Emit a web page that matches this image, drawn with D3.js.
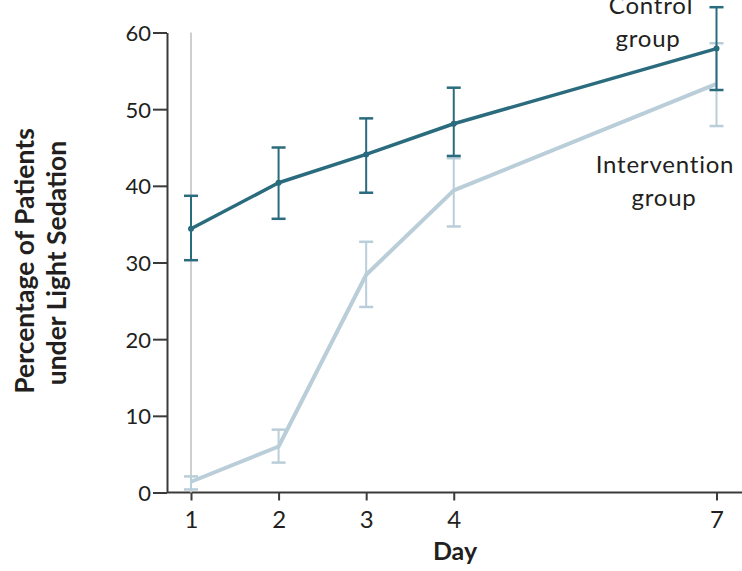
<!DOCTYPE html>
<html>
<head>
<meta charset="utf-8">
<script src="https://cdn.jsdelivr.net/npm/d3@7"></script>
<style>
  html, body { margin: 0; padding: 0; background: #fff; }
  svg { display: block; }
  text { font-family: Lato, "Open Sans", sans-serif; fill: #231f20; }
</style>
</head>
<body>
<svg id="chart" width="742" height="571"></svg>
<script>
// ---- data ----
const days = [1, 2, 3, 4, 7];
const controlMean  = [34.4, 40.4, 44.1, 48.1, 57.9];
const controlLow   = [30.3, 35.7, 39.1, 43.9, 52.5];
const controlHigh  = [38.7, 45.0, 48.8, 52.8, 63.3];
const interventionMean = [1.4, 6.0, 28.4, 39.4, 53.3];
const interventionLow  = [0.4, 3.9, 24.2, 34.7, 47.8];
const interventionHigh = [2.1, 8.2, 32.7, 43.6, 58.6];
const yTicks = [0, 10, 20, 30, 40, 50, 60];
const xTicks = [1, 2, 3, 4, 7];
const refLine = [0, 60]; // light grey vertical line at day 1

const svg = d3.select("#chart");
const x = d3.scaleLinear().domain([1, 7]).range([191, 716.5]);
const y = d3.scaleLinear().domain([0, 60]).range([492.5, 32.5]);
const axisColor = "#3a3a3a";
const cDark = "#2a6b7e";
const cLight = "#b9ced8";
const FONT = "Lato";

// y axis
const yAxis = svg.append("g").attr("transform", "translate(167,0)")
  .call(d3.axisLeft(y).tickValues(yTicks).tickSize(14).tickSizeOuter(0).tickPadding(2));
yAxis.select(".domain").attr("stroke", axisColor).attr("stroke-width", 2);
yAxis.selectAll(".tick line").attr("stroke", axisColor).attr("stroke-width", 2);
yAxis.selectAll(".tick text").attr("font-size", 22).attr("font-family", FONT).attr("fill", "#231f20").attr("dy", "0.36em");

// x axis
const xAxis = svg.append("g").attr("transform", "translate(0,492.5)")
  .call(d3.axisBottom(x).tickValues(xTicks).tickFormat(d3.format("d")).tickSize(8).tickSizeOuter(0).tickPadding(10));
xAxis.select(".domain").attr("d", "M167,0H742").attr("stroke", axisColor).attr("stroke-width", 2);
xAxis.selectAll(".tick line").attr("stroke", axisColor).attr("stroke-width", 2);
xAxis.selectAll(".tick text").attr("font-size", 24).attr("font-family", FONT).attr("fill", "#231f20");

// reference grey line at day 1
svg.append("line")
  .attr("x1", x(days[0])).attr("x2", x(days[0]))
  .attr("y1", y(refLine[0])).attr("y2", y(refLine[1]))
  .attr("stroke", "#cfcfcf").attr("stroke-width", 2);

function drawSeries(mean, low, high, color, lw, dots) {
  const data = days.map((d, i) => ({d, m: mean[i], lo: low[i], hi: high[i]}));
  const line = d3.line().x(p => x(p.d)).y(p => y(p.m));
  svg.append("path").datum(data)
    .attr("d", line).attr("fill", "none")
    .attr("stroke", color).attr("stroke-width", lw)
    .attr("stroke-linejoin", "round");
  const g = svg.append("g");
  g.selectAll("line.v").data(data).join("line")
    .attr("x1", p => x(p.d)).attr("x2", p => x(p.d))
    .attr("y1", p => y(p.lo)).attr("y2", p => y(p.hi))
    .attr("stroke", color).attr("stroke-width", 2);
  ["lo", "hi"].forEach(k => {
    g.selectAll("line.c" + k).data(data).join("line")
      .attr("x1", p => x(p.d) - 7).attr("x2", p => x(p.d) + 7)
      .attr("y1", p => y(p[k])).attr("y2", p => y(p[k]))
      .attr("stroke", color).attr("stroke-width", 2.5);
  });
  if (dots) {
    g.selectAll("circle").data(data).join("circle")
      .attr("cx", p => x(p.d)).attr("cy", p => y(p.m)).attr("r", 3)
      .attr("fill", color);
  }
}
drawSeries(interventionMean, interventionLow, interventionHigh, cLight, 4, false);
drawSeries(controlMean, controlLow, controlHigh, cDark, 3.5, true);

// series labels
const lab = svg.append("g").attr("font-size", 24).attr("letter-spacing", 0.8)
  .attr("text-anchor", "middle").attr("font-family", FONT);
lab.append("text").attr("x", 651).attr("y", 14).text("Control");
lab.append("text").attr("x", 648).attr("y", 47).text("group");
lab.append("text").attr("x", 665).attr("y", 173).text("Intervention");
lab.append("text").attr("x", 664).attr("y", 206).text("group");

// axis titles
svg.append("text").attr("x", 455).attr("y", 560).attr("text-anchor", "middle")
  .attr("font-size", 25).attr("font-weight", "bold").attr("font-family", FONT).text("Day");
const yt = svg.append("g").attr("transform", "translate(0,261) rotate(-90)")
  .attr("text-anchor", "middle").attr("font-size", 26.5).attr("font-weight", "bold").attr("font-family", FONT);
yt.append("text").attr("x", 0).attr("y", 34).text("Percentage of Patients");
yt.append("text").attr("x", -2).attr("y", 66).text("under Light Sedation");
</script>
</body>
</html>
